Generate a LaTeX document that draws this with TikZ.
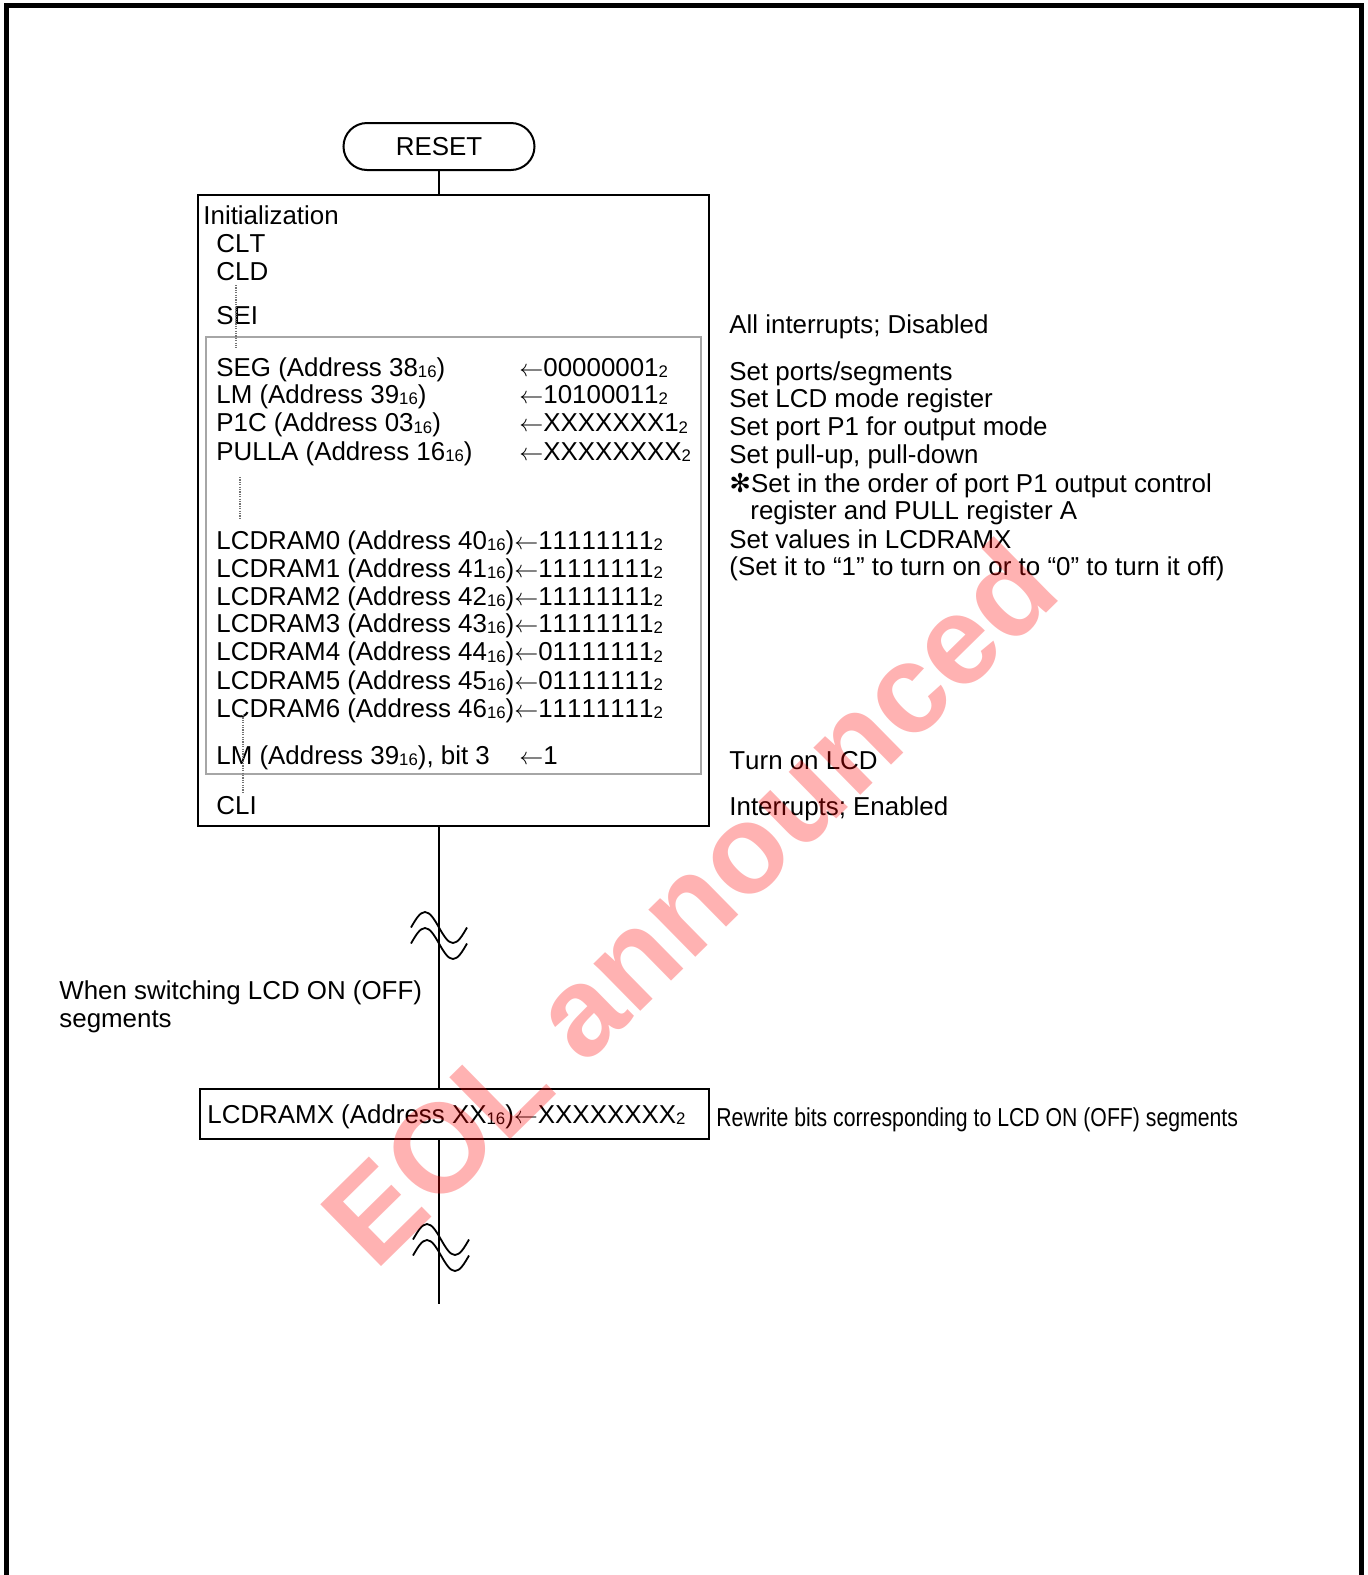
\documentclass[tikz,border=0pt]{standalone}
\usepackage{fontspec}
\setmainfont{Liberation Sans}[Kerning=Off]
\newfontfamily\narrowfont{Liberation Sans}[FakeStretch=0.82,Kerning=Off]
\newfontfamily\symfont{DejaVu Sans}
\usetikzlibrary{positioning,calc}
\newcommand\mainsz{\fontsize{12.95}{14}\selectfont}
\newcommand\hx[1]{\raisebox{-0.6pt}{\fontsize{8.4}{9}\selectfont#1}}
\newcommand\lto{$\leftarrow$}
% break mark on a flow line: two sine strokes
\newcommand\brk[2]{\foreach \dy in {0,16}{\draw[wave] (#1,#2+\dy) sin ++(14,-15.5) cos ++(14,15.5) sin ++(14,15.5) cos ++(14,-15.5);}}

\begin{document}
\begin{tikzpicture}[x=0.5pt,y=-0.5pt,
  txt/.style={anchor=base west,inner sep=0pt,font=\mainsz},
  box/.style={draw,line width=1pt,inner sep=0pt},
  grp/.style={draw=black!35,line width=0.8pt,inner sep=0pt},
  term/.style={draw,line width=1pt,rounded corners=11.75pt,minimum width=95.5pt,minimum height=23.5pt,inner sep=0pt,font=\mainsz},
  conn/.style={line width=1pt},
  wave/.style={line width=0.9pt},
  dotln/.style={black!55,line width=0.6pt,dash pattern=on 0.6pt off 0.6pt}]
\useasboundingbox (0,0) rectangle (1368,1575);
\draw[line width=2.6pt] (6.5,1580) -- (6.5,5.5) -- (1361.5,5.5) -- (1361.5,1580);

% initialization block
\node[term] (reset) at (439,146.5) {RESET};
\node[box,minimum width=255.5pt,minimum height=315.5pt] (init) at (453.5,510.5) {};
\node[grp,minimum width=247.5pt,minimum height=218.5pt] (grp) at (453.5,555.5) {};
\node[txt] (ini) at (203,224) {Initialization};
\node[txt] (clt) at (216,252) {CLT};
\node[txt] (cld) at (216,280) {CLD};
\node[txt] (sei) at (216,324.4) {SEI};
\node[txt] (seg) at (216,376.5) {SEG (Address 38\hx{16})};
\node[txt] (lm) at (216,403.7) {LM (Address 39\hx{16})};
\node[txt] (ponec) at (216,431.9) {P1C (Address 03\hx{16})};
\node[txt] (pulla) at (216,460) {PULLA (Address 16\hx{16})};
\node[txt] (segv) at (519,376.5) {\lto00000001\hx{2}};
\node[txt] (lmv) at (519,403.7) {\lto10100011\hx{2}};
\node[txt] (ponecv) at (519,431.9) {\lto XXXXXXX1\hx{2}};
\node[txt] (pullav) at (519,460) {\lto XXXXXXXX\hx{2}};
\foreach \i/\yb/\val in {0/549.4/11111111,1/577.5/11111111,2/605.6/11111111,3/632.7/11111111,
    4/660.9/01111111,5/689/01111111,6/717.1/11111111}{
  \node[txt] (ram\i) at (216,\yb) {LCDRAM\i{} (Address 4\i\hx{16})\lto\val\hx{2}};
}
\node[txt] (lmb) at (216,764.3) {LM (Address 39\hx{16}), bit 3};
\node[txt] (lmbv) at (519,764.3) {\lto1};
\node[txt] (cli) at (216,814.5) {CLI};
\draw[dotln] (236,285) -- (236,348);
\draw[dotln] (240,477) -- (240,518);
\draw[dotln] (243,715) -- (243,792);

% comments
\node[txt] (c1) at (729,333.4) {All interrupts; Disabled};
\node[txt] (c2) at (729,380.6) {Set ports/segments};
\node[txt] (c3) at (729,407.7) {Set LCD mode register};
\node[txt] (c4) at (729,435.9) {Set port P1 for output mode};
\node[txt] (c5) at (729,463) {Set pull-up, pull-down};
\node[txt] (c6) at (729,492) {{\symfont ✻}Set in the order of port P1 output control};
\node[txt] (c7) at (750,519.2) {register and PULL register A};
\node[txt] (c8) at (729,548.4) {Set values in LCDRAMX};
\node[txt] (c9) at (729,575.5) {(Set it to “1” to turn on or to “0” to turn it off)};
\node[txt] (c10) at (729,769.3) {Turn on LCD};
\node[txt] (c11) at (729,815.5) {Interrupts; Enabled};

% rewriting
\node[txt] (when) at (59,999.3) {When switching LCD ON (OFF)};
\node[txt] (when2) at (59,1027.3) {segments};
\node[box,minimum width=254.5pt,minimum height=25pt] (ramx) at (454.5,1114) {};
\node[txt] (ramxt) at (207,1123) {LCDRAMX (Address XX\hx{16})\lto XXXXXXXX\hx{2}};
\node[txt,font=\narrowfont\mainsz] (rewr) at (716,1126) {Rewrite bits corresponding to LCD ON (OFF) segments};
\coordinate (tail) at (439,1304);

\draw[conn] (reset.south) -- (reset.south |- init.north);
\draw[conn] (reset.south |- init.south) -- (reset.south |- ramx.north);
\draw[conn] (reset.south |- ramx.south) -- (tail);
\brk{411}{927.5}
\brk{413}{1239.5}

\node[rotate=44.5,text=red,opacity=0.3,inner sep=0pt,font=\bfseries\fontsize{63}{63}\selectfont] (eol) at (688,902) {EOL announced};
\end{tikzpicture}
\end{document}
